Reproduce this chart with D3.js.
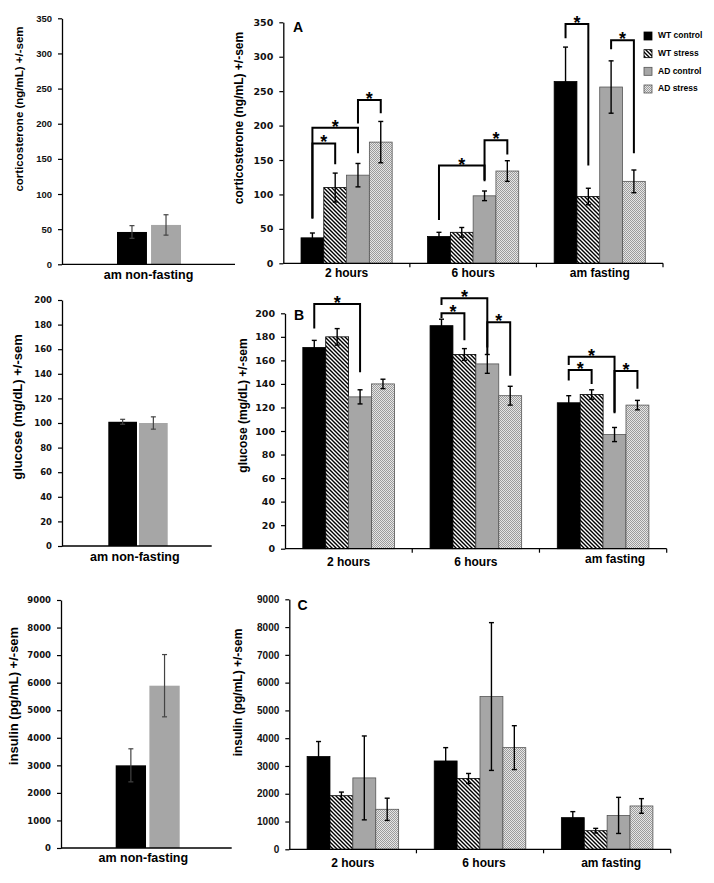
<!DOCTYPE html>
<html><head><meta charset="utf-8">
<script src="https://cdn.jsdelivr.net/npm/d3@7"></script>
<style>body{margin:0;background:#fff}svg{display:block}</style>
</head><body>
<svg id="c" width="714" height="883"></svg>
<script>
// ---------- DATA ----------
const groups = ["2 hours", "6 hours", "am fasting"];
const series = ["WT control", "WT stress", "AD control", "AD stress"];
const baseCategory = "am non-fasting";
const baseSeries = ["WT control", "AD control"];

// corticosterone (ng/mL), rows = groups, cols = series
const cortMean = [[37, 110, 128, 176], [39, 45, 98, 134], [264, 97, 256, 119]];
const cortSem  = [[7, 21, 17, 30], [6, 7, 7, 15], [50, 12, 38, 16.5]];
// glucose (mg/dL)
const gluMean = [[171, 180, 129, 140], [189.5, 165, 157, 130], [124, 131, 97, 122]];
const gluSem  = [[6, 7, 6, 4], [5.5, 5, 8, 8], [6, 4, 6, 4]];
// insulin (pg/mL)
const insMean = [[3340, 1930, 2570, 1440], [3180, 2550, 5500, 3660], [1140, 670, 1220, 1560]];
const insSem  = [[540, 130, 1510, 400], [480, 180, 2660, 790], [216, 84, 650, 264]];

// am non-fasting baseline (WT control, AD control)
const cortBase = [46, 56],   cortBaseSem = [9, 14.5];
const gluBase  = [101, 100], gluBaseSem  = [2, 5];
const insBase  = [3000, 5890], insBaseSem = [600, 1130];

// tick labels
const cortTicks = [0, 50, 100, 150, 200, 250, 300, 350];
const gluTicks  = [0, 20, 40, 60, 80, 100, 120, 140, 160, 180, 200];
const insTicks  = [0, 1000, 2000, 3000, 4000, 5000, 6000, 7000, 8000, 9000];

// significance brackets: group, from-series, to-series, top, left-bottom, right-bottom (data units)
const cortSig = [
  ["2 hours", 0, 1, 174, 65, 144],
  ["2 hours", 0, 2, 197, 65, 160],
  ["2 hours", 2, 3, 237, 203, 218],
  ["6 hours", 0, 2, 142, 63, 119],
  ["6 hours", 2, 3, 178.6, 121, 158],
  ["am fasting", 0, 1, 347.5, 327, 142],
  ["am fasting", 2, 3, 324, 311, 160]
];
const gluSig = [
  ["2 hours", 0, 2, 208, 187, 150],
  ["6 hours", 0, 2, 212.7, 207, 171],
  ["6 hours", 0, 1, 200, 196, 177],
  ["6 hours", 2, 3, 192.4, 165, 147],
  ["am fasting", 0, 2, 163, 156, 115],
  ["am fasting", 0, 1, 151.8, 143, 140],
  ["am fasting", 2, 3, 151, 116, 136]
];

// ---------- DRAWING ----------
const svg = d3.select("#c");
const FONT = "'Liberation Sans', Arial, sans-serif";
const DJ = "'DejaVu Sans', Verdana, sans-serif";
const defs = svg.append("defs");
const hp = defs.append("pattern").attr("id", "hatch").attr("patternUnits", "userSpaceOnUse")
  .attr("width", 4).attr("height", 4);
hp.append("rect").attr("width", 4).attr("height", 4).attr("fill", "#fff");
hp.append("path").attr("d", "M-1,-1L5,5M-1,3L1,5M3,-1L5,1").attr("stroke", "#000").attr("stroke-width", 1.4);
const dp = defs.append("pattern").attr("id", "dots").attr("patternUnits", "userSpaceOnUse")
  .attr("width", 2).attr("height", 2);
dp.append("rect").attr("width", 2).attr("height", 2).attr("fill", "#e6e6e6");
dp.append("rect").attr("width", 1).attr("height", 1).attr("fill", "#9c9c9c");
dp.append("rect").attr("x", 1).attr("y", 1).attr("width", 1).attr("height", 1).attr("fill", "#9c9c9c");

const fills = ["#000", "url(#hatch)", "#a6a6a6", "url(#dots)"];
const strokes = ["#000", "#000", "#555", "#555"];

function yAxis(g, y, x0, ticks, tickFont, tickSize) {
  const ax = g.append("g").attr("transform", `translate(${x0},0)`)
    .call(d3.axisLeft(y).tickValues(ticks).tickSize(4).tickPadding(6).tickSizeOuter(0).tickFormat(d3.format("d")));
  ax.select(".domain").attr("stroke", "#000").attr("stroke-width", 1.3);
  ax.selectAll(".tick line").attr("stroke", "#000").attr("stroke-width", 1.2);
  ax.selectAll(".tick text").attr("fill", "#111").style("font-family", tickFont)
    .style("font-weight", "bold").style("font-size", tickSize + "px");
}

function yTitle(g, text, x, y, size) {
  g.append("text").attr("transform", `translate(${x},${y}) rotate(-90)`)
    .attr("text-anchor", "middle").attr("dominant-baseline", "middle")
    .style("font-family", FONT).style("font-weight", "bold").style("font-size", size + "px")
    .text(text);
}

function errBars(g, data, cx, y, color, width) {
  const eb = g.selectAll("g.err").data(data).join("g").attr("class", "err")
    .attr("stroke", color).attr("stroke-width", width);
  eb.append("line").attr("x1", cx).attr("x2", cx).attr("y1", d => y(d.m - d.e)).attr("y2", d => y(d.m + d.e));
  eb.append("line").attr("x1", d => cx(d) - 2.5).attr("x2", d => cx(d) + 2.5).attr("y1", d => y(d.m + d.e)).attr("y2", d => y(d.m + d.e));
  eb.append("line").attr("x1", d => cx(d) - 2.5).attr("x2", d => cx(d) + 2.5).attr("y1", d => y(d.m - d.e)).attr("y2", d => y(d.m - d.e));
}

function drawMain(c) {
  const g = svg.append("g");
  const x = d3.scaleBand().domain(groups).range([c.x0, c.x1]);
  const bw = x.bandwidth();
  const xi = d3.scaleBand().domain(d3.range(series.length)).range([bw * 0.14, bw * 0.86]);
  const y = d3.scaleLinear().domain([0, c.max]).range([c.yB, c.yT]);
  const data = [];
  groups.forEach((grp, gi) => series.forEach((s, si) =>
    data.push({ grp, si, m: c.means[gi][si], e: c.sems[gi][si] })));
  const cx = d => x(d.grp) + xi(d.si) + xi.bandwidth() / 2;

  g.selectAll("rect.bar").data(data).join("rect").attr("class", "bar")
    .attr("x", d => x(d.grp) + xi(d.si)).attr("width", xi.bandwidth())
    .attr("y", d => y(d.m)).attr("height", d => y(0) - y(d.m))
    .attr("fill", d => fills[d.si]).attr("stroke", d => strokes[d.si]).attr("stroke-width", 0.8);

  errBars(g, data, cx, y, "#000", 1.4);

  (c.sig || []).forEach(b => {
    const xl = x(b[0]) + xi(b[1]) + xi.bandwidth() / 2;
    const xr = x(b[0]) + xi(b[2]) + xi.bandwidth() / 2;
    g.append("path").attr("d", `M${xl},${y(b[4])}V${y(b[3])}H${xr}V${y(b[5])}`)
      .attr("fill", "none").attr("stroke", "#000").attr("stroke-width", 2);
    g.append("text").attr("x", (xl + xr) / 2).attr("y", y(b[3]) + 5).attr("text-anchor", "middle")
      .style("font-family", FONT).style("font-weight", "bold").style("font-size", "18px").text("*");
  });

  yAxis(g, y, c.x0, c.ticks, c.tickFont, c.tickSize);
  g.append("line").attr("x1", c.x0).attr("x2", c.x1).attr("y1", c.yB).attr("y2", c.yB)
    .attr("stroke", "#000").attr("stroke-width", 1.3);
  g.selectAll("line.xt").data(groups).join("line").attr("class", "xt")
    .attr("x1", d => x(d) + bw).attr("x2", d => x(d) + bw)
    .attr("y1", c.yB).attr("y2", c.yB + 4).attr("stroke", "#000").attr("stroke-width", 1.2);
  g.selectAll("text.xl").data(groups).join("text").attr("class", "xl")
    .attr("x", (d, i) => x(d) + bw / 2 + (c.labDx ? c.labDx[i] : 0))
    .attr("y", (d, i) => c.yB + c.labDy + (c.labDyExtra ? c.labDyExtra[i] : 0))
    .attr("text-anchor", "middle").style("font-family", FONT).style("font-weight", "bold")
    .style("font-size", "12px").text(d => d);

  yTitle(g, c.title, c.titleX, c.titleY, 12);
  g.append("text").attr("x", c.letterX).attr("y", c.letterY)
    .style("font-family", FONT).style("font-weight", "bold").style("font-size", "14px").text(c.letter);
  return g;
}

function drawBase(c) {
  const g = svg.append("g");
  const half = c.span / 2;
  const x = d3.scaleBand().domain(baseSeries).range([c.cx - half, c.cx + half]).paddingInner(c.pad);
  const y = d3.scaleLinear().domain([0, c.max]).range([c.yB, c.yT]);
  const data = baseSeries.map((s, i) => ({ s, i, m: c.means[i], e: c.sems[i] }));
  const bfill = ["#000", "#a6a6a6"];
  g.selectAll("rect").data(data).join("rect")
    .attr("x", d => x(d.s)).attr("width", x.bandwidth())
    .attr("y", d => y(d.m)).attr("height", d => y(0) - y(d.m)).attr("fill", d => bfill[d.i]);
  const cx = d => x(d.s) + x.bandwidth() / 2;
  errBars(g, data, cx, y, "#444", 1.2);

  yAxis(g, y, c.x0, c.ticks, c.tickFont, c.tickSize);
  g.append("line").attr("x1", c.x0).attr("x2", c.x1).attr("y1", c.yB).attr("y2", c.yB)
    .attr("stroke", "#000").attr("stroke-width", 1.3);
  g.append("text").attr("x", (c.x0 + c.x1) / 2 + c.labDx).attr("y", c.yB + c.labDy)
    .attr("text-anchor", "middle").style("font-family", FONT).style("font-weight", "bold")
    .style("font-size", "12.5px").text(baseCategory);
  yTitle(g, c.title, c.titleX, c.titleY, c.titleSize);
}

// Left column
drawBase({ x0: 62, x1: 235, yB: 264.3, yT: 18.3, max: 350, ticks: cortTicks, means: cortBase, sems: cortBaseSem,
  cx: 149, span: 64, pad: 0.12, tickFont: FONT, tickSize: 9.5, labDx: 0, labDy: 15,
  title: "corticosterone (ng/mL)  +/-sem", titleX: 20, titleY: 109, titleSize: 11.5 });
drawBase({ x0: 62, x1: 211.7, yB: 546, yT: 300, max: 200, ticks: gluTicks, means: gluBase, sems: gluBaseSem,
  cx: 138, span: 59.4, pad: 0.066, tickFont: DJ, tickSize: 8.5, labDx: -2, labDy: 15,
  title: "glucose (mg/dL) +/-sem", titleX: 18.5, titleY: 407, titleSize: 13 });
drawBase({ x0: 61, x1: 231.7, yB: 848, yT: 600, max: 9000, ticks: insTicks, means: insBase, sems: insBaseSem,
  cx: 147.7, span: 64, pad: 0.1, tickFont: DJ, tickSize: 8.5, labDx: -3, labDy: 14,
  title: "insulin (pg/mL) +/-sem", titleX: 15, titleY: 696, titleSize: 13 });

// Right column
drawMain({ x0: 283.3, x1: 663, yB: 263.3, yT: 22.3, max: 350, ticks: cortTicks,
  means: cortMean, sems: cortSem, sig: cortSig, tickFont: DJ, tickSize: 9.5, labDy: 14,
  title: "corticosterone (ng/mL)  +/-sem", titleX: 240, titleY: 118, letter: "A", letterX: 293, letterY: 32 });
drawMain({ x0: 285, x1: 666.7, yB: 548.7, yT: 313.3, max: 200, ticks: gluTicks,
  means: gluMean, sems: gluSem, sig: gluSig, tickFont: DJ, tickSize: 9.5, labDy: 17,
  labDx: [0, 0, 12], labDyExtra: [0, 0, -3],
  title: "glucose (mg/dL) +/-sem", titleX: 243.5, titleY: 405.5, letter: "B", letterX: 294, letterY: 319.5 });
drawMain({ x0: 289.3, x1: 670.7, yB: 849.3, yT: 599.3, max: 9000, ticks: insTicks,
  means: insMean, sems: insSem, tickFont: FONT, tickSize: 10, labDy: 18,
  labDx: [0, 4, 4],
  title: "insulin (pg/mL) +/-sem", titleX: 238.5, titleY: 692.5, letter: "C", letterX: 297.5, letterY: 609.5 });

// Legend (panel A)
const leg = svg.append("g");
const legY = d3.scalePoint().domain(series).range([36, 89]);
leg.selectAll("rect").data(series).join("rect")
  .attr("x", 644).attr("y", d => legY(d) - 4).attr("width", 8).attr("height", 8)
  .attr("fill", (d, i) => fills[i]).attr("stroke", (d, i) => strokes[i]).attr("stroke-width", 0.8);
leg.selectAll("text").data(series).join("text")
  .attr("x", 658).attr("y", d => legY(d)).attr("dominant-baseline", "middle")
  .style("font-family", FONT).style("font-weight", "bold").style("font-size", "8.5px").text(d => d);
</script>
</body></html>
